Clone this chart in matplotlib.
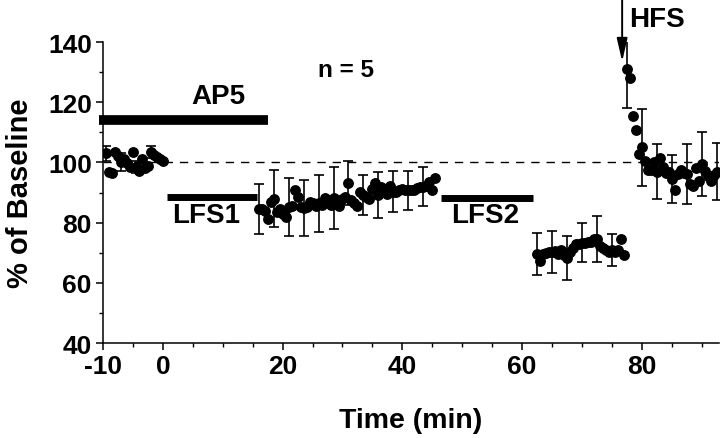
import matplotlib
matplotlib.use("Agg")
import matplotlib.pyplot as plt
from matplotlib.ticker import MultipleLocator, FixedLocator

plt.rcParams['font.family'] = ['Liberation Sans', 'DejaVu Sans']
plt.rcParams['font.weight'] = 'bold'
plt.rcParams['axes.unicode_minus'] = False

# baseline (AP5)
base_t = [-9.5, -9.0, -8.5, -8.0, -7.5, -7.0, -6.5, -6.0, -5.5, -5.0,
          -4.5, -4.0, -3.5, -3.0, -2.5, -2.0, -1.5, -1.0, -0.5, 0.0]
base_y = [103.0, 97.0, 96.5, 103.5, 102.0, 100.3, 101.2, 99.8, 98.5, 103.6,
          98.4, 97.3, 101.2, 98.1, 98.7, 103.4, 102.5, 101.7, 101.0, 100.5]
base_err = [2.6, 3.0, 2.0, 2.0]

# after LFS1
lfs1_t = [16.0, 16.5, 17.0, 17.5, 18.0, 18.5, 19.0, 19.5, 20.0, 20.5,
          21.0, 21.5, 22.0, 22.5, 23.0, 23.5, 24.0, 24.5, 25.0, 25.5,
          26.0, 26.5, 27.0, 27.5, 28.0, 28.5, 29.0, 29.5, 30.0, 30.5,
          31.0, 31.5, 32.0, 32.5, 33.0, 33.5, 34.0, 34.5, 35.0, 35.5,
          36.0, 36.5, 37.0, 37.5, 38.0, 38.5, 39.0, 39.5, 40.0, 40.5,
          41.0, 41.5, 42.0, 42.5, 43.0, 43.5, 44.0, 44.5, 45.0, 45.5]
lfs1_y = [84.5, 84.6, 84.0, 81.1, 86.8, 88.0, 83.5, 84.4, 83.0, 81.9,
          85.2, 85.5, 91.0, 88.5, 85.2, 85.0, 85.2, 86.8, 86.5, 85.5,
          86.5, 85.9, 88.1, 87.4, 85.9, 88.1, 86.5, 85.7, 87.9, 88.5,
          93.2, 87.7, 86.5, 85.7, 90.1, 89.2, 88.5, 87.9, 91.2, 93.2,
          89.2, 91.8, 90.5, 89.6, 92.3, 90.3, 90.1, 90.8, 91.2, 90.7,
          90.7, 90.7, 91.0, 91.5, 91.8, 92.0, 92.3, 93.6, 91.0, 94.8]
lfs1_err = [8.4, 9.4, 9.5, 9.3, 9.5, 10.3, 7.3, 6.8, 7.7, 6.8, 6.6, 6.6]

# after LFS2
lfs2_t = [62.5, 63.0, 63.5, 64.0, 64.5, 65.0, 65.5, 66.0, 66.5, 67.0,
          67.5, 68.0, 68.5, 69.0, 69.5, 70.0, 70.5, 71.0, 71.5, 72.0,
          72.5, 73.0, 73.5, 74.0, 74.5, 75.0, 75.5, 76.0, 76.5, 77.0]
lfs2_y = [69.7, 67.2, 69.7, 70.0, 70.3, 70.3, 70.5, 69.7, 70.8, 69.4,
          68.3, 70.3, 71.5, 73.0, 73.0, 73.4, 73.3, 73.6, 73.6, 74.7,
          74.6, 72.4, 71.5, 70.8, 70.3, 70.9, 70.3, 71.0, 74.7, 69.4]
lfs2_err = [7.0, 6.9, 7.2, 6.4, 7.6, 5.3]

# after HFS
hfs_t = [77.5, 78.0, 78.5, 79.0, 79.5, 80.0, 80.5, 81.0, 81.5, 82.0,
         82.5, 83.0, 83.5, 84.0, 84.5, 85.0, 85.5, 86.0, 86.5, 87.0,
         87.5, 88.0, 88.5, 89.0, 89.5, 90.0, 90.5, 91.0, 91.5, 92.0, 92.5]
hfs_y = [131.0, 128.0, 115.5, 110.8, 102.8, 105.0, 100.6, 97.6, 97.6, 100.1,
         97.0, 101.4, 98.4, 96.5, 97.0, 94.5, 90.7, 96.2, 97.6, 96.5,
         96.2, 92.9, 92.1, 98.1, 94.0, 99.5, 97.3, 95.6, 94.0, 96.0, 97.0]
hfs_err = [13.0, 12.8, 9.2, 8.0, 10.0, 10.5, 9.4]

# treatment bars: (start, end, level)
ap5_bar = (-10.6, 17.6, 114.0)
lfs1_bar = (0.7, 15.8, 88.5)
lfs2_bar = (46.4, 61.8, 88.3)

fig = plt.figure(figsize=(7.2, 4.39), dpi=100)
ax = fig.add_axes([0.143, 0.216, 0.855, 0.686])

ax.axhline(100, color='black', lw=1.0, ls=(0, (6, 5)), zorder=1)

for t, y, e in [(base_t, base_y, base_err), (lfs1_t, lfs1_y, lfs1_err),
                (lfs2_t, lfs2_y, lfs2_err), (hfs_t, hfs_y, hfs_err)]:
    ax.errorbar(t[::5], y[::5], yerr=e, fmt='none', ecolor='black',
                elinewidth=1.2, capsize=3.5, capthick=1.2, zorder=2)
    ax.plot(t, y, 'o', color='black', ms=6.8, zorder=3)

ax.plot(ap5_bar[:2], [ap5_bar[2]] * 2, color='black', lw=7, solid_capstyle='butt', clip_on=False)
ax.plot(lfs1_bar[:2], [lfs1_bar[2]] * 2, color='black', lw=5, solid_capstyle='butt')
ax.plot(lfs2_bar[:2], [lfs2_bar[2]] * 2, color='black', lw=5, solid_capstyle='butt')

ax.text(9.2, 122, 'AP5', fontsize=20, fontweight='bold', ha='center', va='center')
ax.text(7.3, 82.6, 'LFS1', fontsize=20, fontweight='bold', ha='center', va='center')
ax.text(53.8, 82.4, 'LFS2', fontsize=20, fontweight='bold', ha='center', va='center')
ax.text(30.6, 131, 'n = 5', fontsize=17.5, fontweight='bold', ha='center', va='center')
ax.text(77.8, 147.6, 'HFS', fontsize=20, fontweight='bold', ha='left', va='center', clip_on=False)
ax.annotate('', xy=(76.7, 133.5), xytext=(76.7, 154.0), annotation_clip=False,
            arrowprops=dict(arrowstyle='-|>,head_length=0.7,head_width=0.16',
                            mutation_scale=20, lw=1.4, color='black',
                            shrinkA=0, shrinkB=0))

ax.set_xlim(-10, 92.8)
ax.set_ylim(40, 140)
ax.xaxis.set_major_locator(FixedLocator([-10, 0, 20, 40, 60, 80]))
ax.xaxis.set_minor_locator(MultipleLocator(5))
ax.yaxis.set_major_locator(MultipleLocator(20))
ax.yaxis.set_minor_locator(MultipleLocator(10))
ax.tick_params(which='major', direction='out', length=5, width=1.1, labelsize=19, pad=3)
ax.tick_params(which='minor', direction='out', length=3, width=1.0)
for lab in ax.get_xticklabels() + ax.get_yticklabels():
    lab.set_fontweight('bold')

ax.spines['top'].set_visible(False)
ax.spines['right'].set_visible(False)
ax.spines['left'].set_linewidth(1.1)
ax.spines['bottom'].set_linewidth(1.1)

ax.set_xlabel('Time (min)', fontsize=20.5, fontweight='bold', labelpad=21)
ax.set_ylabel('% of Baseline', fontsize=21, fontweight='bold', labelpad=10)

fig.savefig('out.png', dpi=100)
